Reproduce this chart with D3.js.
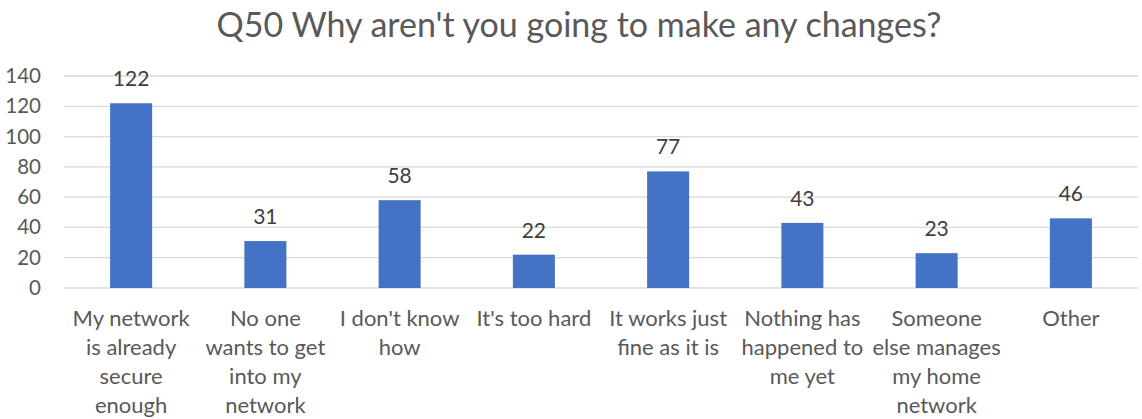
<!DOCTYPE html>
<html>
<head>
<meta charset="utf-8">
<script src="https://cdn.jsdelivr.net/npm/d3@7"></script>
<style>
  body { margin: 0; background: #fff; }
  text { font-family: Lato, "Open Sans", sans-serif; fill: #595959; }
</style>
</head>
<body>
<div id="chart"></div>
<script>
// chart data
const categories = [
  "My network|is already|secure|enough",
  "No one|wants to get|into my|network",
  "I don't know|how",
  "It's too hard",
  "It works just|fine as it is",
  "Nothing has|happened to|me yet",
  "Someone|else manages|my home|network",
  "Other"
];
const values = [122, 31, 58, 22, 77, 43, 23, 46];
const yTicks = [0, 20, 40, 60, 80, 100, 120, 140];
const title = "Q50 Why aren't you going to make any changes?";

const width = 1142;
const height = 419;
const margin = {top: 76, right: 4, bottom: 131, left: 64};

const svg = d3.select("#chart")
  .append("svg")
    .attr("width", width)
    .attr("height", height);

const x = d3.scaleBand()
  .domain(categories)
  .range([margin.left, width - margin.right])
  .paddingInner(0.687)
  .paddingOuter(0.3435);

const y = d3.scaleLinear()
  .domain([0, 140])
  .range([height - margin.bottom, margin.top]);

// title
svg.append("text")
  .attr("x", 579)
  .attr("y", 37)
  .attr("text-anchor", "middle")
  .style("font-size", "34px")
  .text(title);

// gridlines
svg.append("g")
  .selectAll("line")
  .data(yTicks)
  .join("line")
    .attr("x1", margin.left)
    .attr("x2", width - margin.right)
    .attr("y1", d => y(d))
    .attr("y2", d => y(d))
    .attr("stroke", "#d9d9d9")
    .attr("stroke-width", 1.3);

// y axis labels
const yAxis = svg.append("g")
  .attr("transform", `translate(${margin.left},0)`)
  .call(d3.axisLeft(y).tickValues(yTicks).tickSize(0).tickPadding(23));
yAxis.select(".domain").remove();
yAxis.selectAll("text")
  .style("font-size", "20.5px")
  .style("font-family", "Lato, 'Open Sans', sans-serif")
  .attr("fill", "#595959");

// bars
svg.append("g")
  .selectAll("rect")
  .data(values)
  .join("rect")
    .attr("x", (d, i) => x(categories[i]))
    .attr("y", d => y(d))
    .attr("width", x.bandwidth())
    .attr("height", d => y(0) - y(d))
    .attr("fill", "#4472c4");

// value labels
svg.append("g")
  .selectAll("text")
  .data(values)
  .join("text")
    .attr("x", (d, i) => x(categories[i]) + x.bandwidth() / 2)
    .attr("y", d => y(d) - 17)
    .attr("text-anchor", "middle")
    .style("font-size", "21px")
    .style("fill", "#404040")
    .text(d => d);

// category labels
const xl = svg.append("g")
  .selectAll("text")
  .data(categories)
  .join("text")
    .attr("x", d => x(d) + x.bandwidth() / 2)
    .attr("y", 326)
    .attr("text-anchor", "middle")
    .style("font-size", "22px");
xl.selectAll("tspan")
  .data(d => d.split("|"))
  .join("tspan")
    .attr("x", function() { return this.parentNode.getAttribute("x"); })
    .attr("dy", (d, i) => i === 0 ? 0 : 29)
    .text(d => d);
</script>
</body>
</html>
